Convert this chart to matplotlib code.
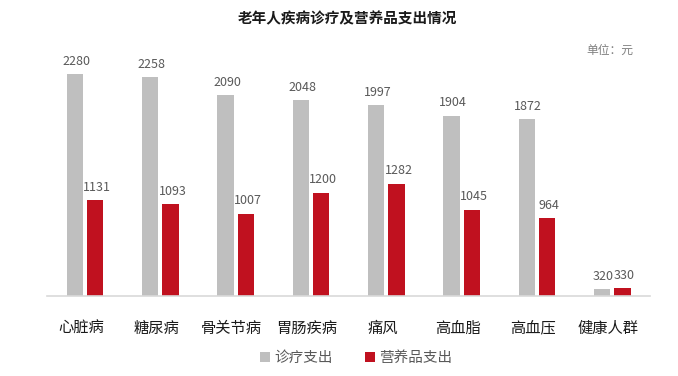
import matplotlib
matplotlib.use("Agg")
import matplotlib.pyplot as plt
import matplotlib.transforms as mtransforms
import numpy as np
from matplotlib.patches import Patch

plt.rcParams['font.family'] = ['Noto Sans CJK SC', 'DejaVu Sans']

categories = ["心脏病", "糖尿病", "骨关节病", "胃肠疾病", "痛风", "高血脂", "高血压", "健康人群"]
medical = [2280, 2258, 2090, 2048, 1997, 1904, 1872, 320]
nutrition = [1131, 1093, 1007, 1200, 1282, 1045, 964, 330]
series_names = ["诊疗支出", "营养品支出"]

gray = "#BFBFBF"
red = "#C0111F"
label_color = "#595959"

fig = plt.figure(figsize=(6.78, 3.76), dpi=100)
ax = fig.add_axes([47.4/678, 1-296/376, (650-47.4)/678, (296-40)/376])

x = np.arange(len(categories))
w = 0.215
off = 0.135
ax.bar(x - off, medical, w, color=gray)
ax.bar(x + off, nutrition, w, color=red)

ax.set_ylim(255, 255 + (296-40)/0.1094)
ax.set_xlim(-0.5, len(categories) - 0.5)

for xi, v in zip(x, medical):
    ax.annotate(str(v), (xi - off, v), xytext=(1, 4.5), textcoords="offset points",
                ha="center", va="bottom", fontsize=9, color=label_color)
for xi, v in zip(x, nutrition):
    ax.annotate(str(v), (xi + off, v), xytext=(1.5, 4.5), textcoords="offset points",
                ha="center", va="bottom", fontsize=9, color=label_color)

for s in ["top", "right", "left"]:
    ax.spines[s].set_visible(False)
ax.spines["bottom"].set_color("#D9D9D9")
ax.spines["bottom"].set_linewidth(1.2)
ax.set_yticks([])
ax.set_xticks(x)
ax.set_xticklabels(categories, fontsize=11, color="#1a1a1a")
ax.tick_params(axis="x", length=0, pad=17)
shift = mtransforms.ScaledTranslation(-4/100, 0, fig.dpi_scale_trans)
for lbl in ax.get_xticklabels():
    lbl.set_transform(lbl.get_transform() + shift)

fig.text(0.512, 1-18/376, "老年人疾病诊疗及营养品支出情况", ha="center", va="center",
         fontsize=10.5, fontweight="bold", color="#1a1a1a")
fig.text(633/678, 1-50/376, "单位：元", ha="right", va="center", fontsize=8.5,
         style="italic", color="#7f7f7f")

handles = [Patch(facecolor=gray, edgecolor="none"), Patch(facecolor=red, edgecolor="none")]
fig.legend(handles, series_names, loc="center", bbox_to_anchor=(356/678, 1-358/376),
           ncol=2, frameon=False, fontsize=10.5, labelcolor=label_color,
           handlelength=0.7, handleheight=0.7, handletextpad=0.3, columnspacing=2.2)

fig.savefig("out.png", dpi=100, facecolor="white")
